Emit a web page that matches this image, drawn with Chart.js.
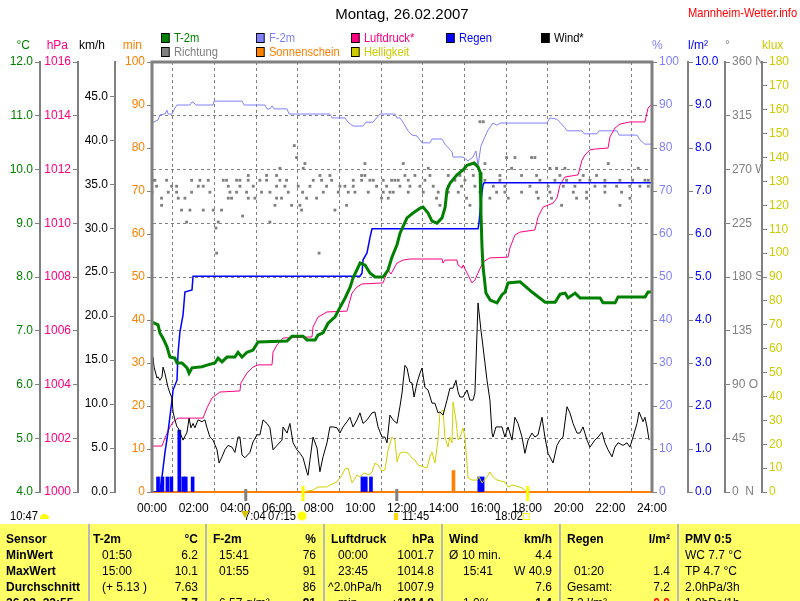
<!DOCTYPE html>
<html>
<head>
<meta charset="utf-8">
<title>Montag, 26.02.2007 - Mannheim-Wetter.info</title>
<script src="https://cdn.jsdelivr.net/npm/chart.js"></script>
<style>
  body { margin: 0; width: 800px; height: 601px; overflow: hidden; background: #fff;
         font-family: "Liberation Sans", Arial, sans-serif; position: relative; }
  .abs { position: absolute; white-space: nowrap; }
  /* the original lettering is narrow; squeeze the html labels a little */
  .sq { transform: scaleX(0.86); transform-origin: 0 50%; }
  #chart { position: absolute; left: 0; top: 0; }
  #title { left: 0; top: 5px; width: 804px; text-align: center; font-size: 15px; }
  #site { left: 688px; top: 5px; font-size: 13px; color: #f00; }
  .leg { position: absolute; font-size: 13px; line-height: 14px; white-space: nowrap; }
  .leg i { display: inline-block; width: 8px; height: 8px; border: 1px solid #000; margin-right: 5px; vertical-align: -1px; }
  .sun { font-size: 13px; top: 509px; line-height: 14px; }
  .ico { position: absolute; }
  #tbl { position: absolute; left: 0; top: 524px; width: 800px; height: 77px; background: #ffff66; font-size: 12px; overflow: hidden; }
  .c { position: absolute; top: 0; height: 77px; padding-top: 7px; box-sizing: border-box; }
  .c + .c { border-left: 2px solid #b8b8b8; }
  .r { height: 16px; line-height: 16px; display: flex; justify-content: space-between; padding: 0 7px 0 6px; white-space: nowrap; }
  .b { font-weight: bold; }
</style>
</head>
<body>
<canvas id="chart" width="800" height="523"></canvas>
<div id="title" class="abs">Montag, 26.02.2007</div>
<div id="site" class="abs sq">Mannheim-Wetter.info</div>
<div id="legend"></div>

<!-- day length / sun times under the time axis -->
<div class="abs sun sq" style="left:10px">10:47</div>
<span class="ico" style="left:40px;top:514px;width:9px;height:5px;background:#ffff00;border-radius:5px 5px 0 0"></span>
<div class="abs sun sq" style="left:244px">7:04</div>
<span class="ico" style="left:241px;top:511px;width:0;height:0;border-left:4px solid transparent;border-right:4px solid transparent;border-top:7px solid #d8c000"></span>
<div class="abs sun sq" style="left:268px">07:15</div>
<span class="ico" style="left:298px;top:512px;width:8px;height:8px;background:#ffff00;border-radius:50%;box-shadow:0 0 2px 1px #ffff80"></span>
<span class="ico" style="left:394px;top:513px;width:4px;height:7px;background:#ffd800"></span>
<div class="abs sun sq" style="left:402px">11:45</div>
<div class="abs sun sq" style="left:495px">18:02</div>
<span class="ico" style="left:523px;top:513px;width:5px;height:5px;border:1px solid #ffff00"></span>

<div id="tbl">
  <div class="c b" style="left:0;width:88px">
    <div class="r">Sensor</div><div class="r">MinWert</div><div class="r">MaxWert</div>
    <div class="r">Durchschnitt</div><div class="r">26.02. 22:55</div>
  </div>
  <div class="c" style="left:88px;width:117px">
    <div class="r b" style="padding-left:3px"><span>T-2m</span><span>°C</span></div>
    <div class="r"><span style="padding-left:6px">01:50</span><span>6.2</span></div>
    <div class="r"><span style="padding-left:6px">15:00</span><span>10.1</span></div>
    <div class="r"><span style="padding-left:6px">(+ 5.13 )</span><span>7.63</span></div>
    <div class="r"><span></span><span class="b">7.7</span></div>
  </div>
  <div class="c" style="left:205px;width:118px">
    <div class="r b"><span>F-2m</span><span>%</span></div>
    <div class="r"><span style="padding-left:6px">15:41</span><span>76</span></div>
    <div class="r"><span style="padding-left:6px">01:55</span><span>91</span></div>
    <div class="r"><span></span><span>86</span></div>
    <div class="r"><span style="padding-left:6px">6.57 g/m³</span><span class="b">91</span></div>
  </div>
  <div class="c" style="left:323px;width:118px">
    <div class="r b"><span>Luftdruck</span><span>hPa</span></div>
    <div class="r"><span style="padding-left:7px">00:00</span><span>1001.7</span></div>
    <div class="r"><span style="padding-left:7px">23:45</span><span>1014.8</span></div>
    <div class="r" style="padding-left:3px"><span>^2.0hPa/h</span><span>1007.9</span></div>
    <div class="r"><span style="padding-left:7px">min.</span><span class="b">&#9830;1014.8</span></div>
  </div>
  <div class="c" style="left:441px;width:118px">
    <div class="r b"><span>Wind</span><span>km/h</span></div>
    <div class="r"><span>Ø 10 min.</span><span>4.4</span></div>
    <div class="r"><span style="padding-left:14px">15:41</span><span>W 40.9</span></div>
    <div class="r"><span></span><span>7.6</span></div>
    <div class="r"><span style="padding-left:14px">1.0%</span><span class="b">1.4</span></div>
  </div>
  <div class="c" style="left:559px;width:118px">
    <div class="r b"><span>Regen</span><span>l/m²</span></div>
    <div class="r"><span></span><span></span></div>
    <div class="r"><span style="padding-left:7px">01:20</span><span>1.4</span></div>
    <div class="r"><span>Gesamt:</span><span>7.2</span></div>
    <div class="r"><span>7.2 l/m²</span><span class="b" style="color:#f00">0.0</span></div>
  </div>
  <div class="c" style="left:677px;width:123px">
    <div class="r b">PMV 0:5</div>
    <div class="r">WC 7.7 °C</div>
    <div class="r">TP 4.7 °C</div>
    <div class="r">2.0hPa/3h</div>
    <div class="r">1.0hPa/1h</div>
  </div>
</div>

<script>
// ---- values: [hour of day, value] ----
const tempPoints = [[0,7.16],[0.29,7.11],[0.38,6.96],[0.53,6.86],[0.72,6.70],[0.86,6.51],[1.10,6.49],[1.20,6.40],[1.44,6.40],[1.68,6.31],[1.78,6.21],[1.92,6.31],[2.40,6.33],[2.64,6.36],[3.02,6.40],[3.17,6.49],[3.36,6.42],[3.60,6.51],[3.98,6.51],[4.13,6.60],[4.32,6.51],[4.56,6.60],[4.85,6.64],[5.09,6.79],[6.48,6.81],[6.72,6.90],[7.25,6.90],[7.44,6.83],[7.83,6.83],[7.97,6.92],[8.21,6.96],[8.45,7.14],[8.79,7.26],[9.03,7.44],[9.27,7.61],[9.51,7.81],[9.65,7.98],[9.99,8.26],[10.23,8.22],[10.47,8.07],[10.71,8.00],[11.09,8.00],[11.33,8.13],[11.52,8.37],[11.76,8.60],[11.91,8.82],[12.24,9.10],[12.53,9.19],[12.87,9.28],[13.01,9.30],[13.25,9.19],[13.44,9.04],[13.68,9.00],[13.92,9.10],[14.07,9.30],[14.16,9.62],[14.31,9.75],[14.64,9.90],[14.93,9.99],[15.12,10.08],[15.46,10.12],[15.65,10.05],[15.75,9.95],[15.79,9.19],[15.84,8.56],[15.89,8.19],[16.03,7.70],[16.23,7.57],[16.56,7.52],[16.80,7.67],[16.95,7.72],[17.09,7.89],[17.67,7.91],[18.24,7.72],[18.87,7.53],[19.35,7.53],[19.59,7.68],[19.83,7.70],[19.97,7.61],[20.31,7.70],[20.55,7.61],[21.51,7.61],[21.65,7.52],[22.23,7.52],[22.37,7.63],[23.67,7.63],[23.81,7.72],[24,7.72]];

const humPoints = [[0,85.3],[0.05,86.0],[0.29,86.5],[0.38,87.7],[0.62,87.9],[0.72,88.8],[0.77,87.9],[0.96,87.9],[1.10,89.3],[1.20,90.0],[1.82,90.0],[1.92,90.7],[1.97,90.7],[2.11,90.0],[2.93,90.0],[2.98,90.9],[4.32,90.9],[4.42,90.0],[5.42,90.0],[5.52,89.1],[5.66,89.1],[5.76,89.8],[5.86,89.1],[6.48,89.1],[6.58,87.9],[8.54,87.9],[8.64,87.0],[9.26,87.0],[9.41,86.0],[9.65,85.1],[10.13,85.1],[10.27,86.0],[10.61,86.0],[10.94,87.9],[11.66,87.9],[11.76,87.0],[11.90,87.0],[12.05,86.0],[12.29,84.0],[12.48,83.0],[12.72,82.8],[12.96,81.2],[13.34,81.2],[13.44,82.1],[13.92,82.1],[14.06,80.9],[14.40,79.1],[14.45,77.9],[14.93,77.9],[15.17,77.0],[15.41,77.9],[15.55,79.3],[15.65,76.0],[15.79,80.5],[15.98,82.6],[16.13,84.2],[16.37,85.8],[16.56,85.3],[16.70,85.8],[18.96,85.8],[19.10,87.0],[19.44,86.7],[19.82,84.7],[19.92,84.0],[20.64,84.0],[20.74,83.3],[21.36,83.3],[21.46,84.0],[22.32,84.0],[22.42,83.0],[23.28,83.0],[23.42,81.9],[23.66,80.9],[24,80.9]];

const pressPoints = [[0,1001.71],[0.48,1001.71],[0.62,1002.01],[0.86,1002.42],[1.01,1002.60],[1.25,1002.75],[2.45,1002.75],[2.64,1003.13],[2.88,1003.50],[3.26,1003.72],[4.22,1003.76],[4.27,1004.06],[4.56,1004.43],[4.85,1004.65],[5.09,1004.73],[5.76,1004.73],[5.81,1005.21],[6.00,1005.47],[6.29,1005.73],[7.68,1005.77],[7.73,1006.14],[7.97,1006.51],[8.40,1006.70],[9.36,1006.73],[9.60,1007.40],[9.84,1007.63],[10.08,1007.74],[11.09,1007.78],[11.18,1007.96],[11.33,1008.26],[11.47,1008.11],[11.76,1008.52],[12.05,1008.63],[12.38,1008.67],[13.92,1008.67],[13.97,1008.52],[14.06,1008.63],[14.64,1008.63],[14.69,1008.45],[14.88,1008.33],[14.93,1008.45],[15.12,1008.15],[15.36,1007.78],[15.50,1007.89],[15.65,1008.15],[15.89,1008.56],[16.22,1008.71],[17.09,1008.74],[17.18,1009.08],[17.42,1009.56],[17.66,1009.67],[18.38,1009.75],[18.53,1010.23],[18.77,1010.60],[19.25,1010.75],[19.44,1010.94],[19.58,1011.42],[19.82,1011.72],[20.45,1011.80],[20.64,1012.35],[20.78,1012.54],[21.02,1012.73],[21.26,1012.76],[21.89,1012.80],[21.98,1013.21],[22.22,1013.54],[22.46,1013.69],[22.94,1013.77],[23.66,1013.77],[23.81,1014.29],[24,1014.44]];

const rainSumPoints = [[0,0],[0.38,0],[0.48,0.35],[0.62,0.91],[0.77,1.40],[0.96,2.14],[1.01,2.37],[1.20,2.60],[1.25,3.23],[1.34,3.72],[1.49,4.12],[1.58,4.65],[1.92,4.70],[1.97,5.02],[9.98,5.02],[10.08,5.09],[10.13,5.40],[10.32,5.56],[10.46,5.91],[10.56,6.12],[15.65,6.12],[15.70,6.28],[15.79,6.79],[15.89,7.14],[15.94,7.19],[24,7.19]];

const rainBars = [[0.29,0.35],[0.50,0.35],[0.74,0.35],[0.93,0.35],[1.31,1.44],[1.50,0.35],[1.62,0.35],[1.95,0.35],[10.10,0.35],[10.26,0.35],[10.51,0.35],[15.71,0.35],[15.87,0.35]];

const sunBars = [[14.47,5]];

const lightPoints = [[7.20,0],[7.73,0.8],[7.97,2.1],[8.40,2.1],[8.54,2.9],[8.88,4.2],[9.12,7.1],[9.26,9.6],[9.41,10.0],[9.60,3.8],[9.84,7.1],[9.98,6.3],[10.18,8.0],[10.42,7.1],[10.56,8.4],[10.70,12.1],[10.85,11.3],[11.04,8.8],[11.18,9.2],[11.33,17.6],[11.52,23.0],[11.66,21.8],[11.76,12.6],[11.90,16.3],[12.05,16.7],[12.29,16.3],[12.48,14.2],[12.62,13.4],[12.77,11.3],[13.20,10.0],[13.34,14.7],[13.44,16.7],[13.58,12.1],[13.73,21.8],[13.82,33.1],[13.97,34.3],[14.06,23.0],[14.21,18.8],[14.30,23.0],[14.40,20.5],[14.45,37.7],[14.59,30.1],[14.69,21.8],[14.78,23.0],[14.93,26.8],[15.02,23.0],[15.17,5.9],[15.36,5.0],[15.60,5.0],[15.70,6.3],[15.84,3.8],[16.08,6.3],[16.22,8.4],[16.37,6.3],[16.56,5.0],[16.94,4.2],[17.09,2.1],[17.33,2.9],[17.76,1.7],[18.00,0]];

const windPoints = [[0,14.2],[0.05,15.3],[0.10,14.2],[0.24,12.95],[0.29,13.1],[0.38,12.7],[0.48,13.1],[0.53,14.2],[0.62,13.5],[0.72,12.4],[0.77,11.9],[0.86,11.25],[0.96,10.7],[1.01,9.1],[1.10,8.2],[1.20,7.4],[1.25,7.3],[1.34,6.8],[1.49,5.9],[1.68,6.8],[1.78,8.4],[1.87,7.3],[1.97,7.8],[2.06,7.3],[2.21,8.2],[2.40,8.0],[2.54,8.2],[2.64,7.3],[2.78,6.25],[2.93,5.9],[3.12,4.8],[3.22,3.3],[3.36,4.0],[3.50,4.8],[3.65,5.3],[3.84,5.1],[3.98,4.5],[4.13,6.25],[4.22,6.25],[4.32,4.2],[4.46,3.9],[4.70,4.5],[4.85,5.7],[5.04,6.5],[5.18,6.5],[5.33,8.2],[5.52,7.8],[5.66,7.3],[5.81,4.8],[6.00,5.3],[6.24,5.9],[6.29,7.4],[6.48,6.7],[6.62,7.8],[6.77,5.6],[6.96,4.8],[7.10,4.4],[7.25,3.9],[7.44,2.2],[7.49,1.9],[7.58,3.6],[7.73,6.25],[7.92,5.0],[8.06,2.3],[8.21,4.0],[8.40,5.6],[8.54,7.4],[8.69,7.4],[8.88,7.3],[9.02,6.7],[9.17,7.4],[9.36,8.0],[9.50,8.5],[9.65,7.4],[9.84,8.2],[9.98,9.0],[10.13,7.8],[10.32,8.2],[10.56,9.0],[10.70,9.1],[10.85,7.4],[11.04,6.25],[11.18,6.25],[11.28,5.6],[11.42,8.75],[11.57,8.2],[11.76,7.8],[11.90,9.7],[12.00,11.25],[12.14,14.4],[12.24,14.1],[12.38,12.5],[12.48,12.4],[12.58,10.8],[12.72,12.4],[12.86,13.5],[12.96,14.1],[13.10,11.9],[13.25,11.6],[13.44,10.1],[13.58,10.1],[13.73,9.0],[13.82,9.1],[13.97,8.75],[14.16,10.45],[14.30,11.8],[14.45,11.8],[14.59,12.7],[14.69,11.4],[14.78,10.8],[14.93,10.8],[15.12,11.6],[15.26,10.45],[15.41,10.45],[15.50,11.25],[15.65,21.5],[15.79,18.4],[15.89,16.5],[16.08,12.7],[16.22,10.45],[16.32,6.7],[16.37,6.25],[16.51,7.4],[16.61,7.4],[16.80,7.4],[16.94,6.25],[17.09,7.4],[17.28,5.9],[17.42,8.5],[17.57,7.8],[17.76,6.25],[17.90,4.4],[18.05,5.9],[18.24,6.7],[18.38,6.25],[18.53,6.5],[18.72,8.5],[18.86,6.25],[19.01,4.4],[19.25,3.3],[19.44,5.3],[19.58,5.9],[19.73,6.25],[19.92,9.7],[20.06,9.0],[20.21,7.8],[20.40,6.7],[20.54,6.7],[20.69,7.4],[20.88,5.9],[21.02,5.1],[21.26,5.9],[21.41,6.25],[21.60,6.8],[21.74,5.6],[21.89,4.8],[22.08,4.0],[22.22,5.1],[22.37,5.6],[22.61,5.3],[22.80,5.6],[22.94,5.1],[23.09,6.25],[23.28,7.8],[23.38,9.1],[23.57,8.0],[23.66,8.5],[23.76,7.4],[23.86,5.9]];

// wind direction samples: [degrees, [hours at which that direction was logged]]
const dirRows = [
  [310, [15.74, 15.90]],
  [290, [6.83]],
  [280, [6.94, 17.02, 17.42, 18.22, 18.38]],
  [275, [7.34, 10.22, 12.06, 15.98, 21.90]],
  [271, [6.14, 7.26, 13.26, 17.26, 19.10, 19.42, 19.82, 23.34]],
  [265, [4.62, 5.50, 5.98, 8.06, 8.54, 10.06, 10.22, 12.14, 12.62, 13.34, 14.22, 14.78, 15.42, 16.70, 17.74, 18.46, 19.58, 20.70, 21.34]],
  [261, [0.06, 0.14, 0.70, 1.90, 2.30, 2.70, 3.42, 3.58, 4.06, 4.22, 4.62, 5.18, 5.50, 6.14, 6.46, 7.74, 8.14, 8.62, 9.66, 10.06, 10.46, 10.62, 11.10, 11.50, 11.66, 11.82, 12.30, 13.10, 14.54, 15.02, 15.98, 16.70, 18.62, 19.34, 19.90, 20.54, 21.02, 21.74, 22.46, 23.07, 23.66, 23.82]],
  [256, [0.22, 0.94, 1.18, 2.22, 2.46, 3.66, 4.22, 4.86, 5.98, 6.38, 7.02, 7.58, 8.38, 9.02, 9.26, 9.66, 10.78, 11.26, 11.90, 12.38, 12.86, 13.50, 14.22, 14.86, 15.50, 16.38, 16.94, 18.14, 19.02, 19.74, 20.30, 21.26, 21.74, 22.30, 22.94, 23.42, 23.82]],
  [251, [0.00, 0.78, 1.18, 1.90, 2.78, 3.74, 4.06, 4.54, 5.26, 5.66, 6.54, 7.23, 8.22, 8.94, 9.42, 9.74, 10.38, 11.10, 11.42, 11.58, 12.30, 13.02, 13.74, 14.22, 14.70, 15.74, 16.54, 16.94, 17.74, 18.46, 19.10, 20.22, 20.86, 21.74, 22.54]],
  [246, [0.46, 1.26, 1.58, 3.66, 3.82, 4.62, 4.94, 5.98, 6.22, 7.42, 7.90, 11.02, 11.34, 13.66, 15.10, 16.22, 17.10, 18.54, 19.18, 20.38, 20.86, 22.94]],
  [240, [0.46, 5.90, 6.70, 7.10, 9.34, 13.82, 15.26, 19.66, 22.46]],
  [236, [1.42, 1.82, 2.46, 2.94, 3.34, 7.18, 8.78]],
  [231, [4.35]],
  [226, [1.66, 3.18, 5.66]],
  [221, [3.07]],
  [200, [3.10, 8.02]]
];

// marks on the time axis (hours): moon/sun events
const greyMarks = [4.5, 11.75];
const sunMarks = [7.25, 18.03];

const degTicks = [0, 90, 180, 270, 360];
const degTickNames = ['0  N', '90 O', '180 S', '270 W', '360 N'];

const col = {
  T: '#008000', F: '#8080ff', P: '#ff0080', R: '#0000ff', W: '#000000',
  D: '#808080', S: '#ff8000', L: '#cccc00'
};

const legendRows = [
  [['T-2m', col.T], ['F-2m', col.F], ['Luftdruck*', col.P], ['Regen', col.R], ['Wind*', col.W]],
  [['Richtung', col.D], ['Sonnenschein', col.S], ['Helligkeit', col.L]]
];

const units = [
  ['yT', '°C'], ['yP', 'hPa'], ['yW', 'km/h'], ['yM', 'min'],
  ['yF', '%'], ['yR', 'l/m²'], ['yD', '°'], ['yL', 'klux']
];

// ---- legend (html) ----
const legendEl = document.getElementById('legend');
legendRows.forEach((row, r) => row.forEach(([label, c], i) => {
  const d = document.createElement('div');
  d.className = 'leg sq';
  d.style.left = (161 + i * 95) + 'px';
  d.style.top = (31 + r * 14) + 'px';
  d.style.color = c;
  d.innerHTML = '<i style="background:' + c + '"></i>' + label;
  legendEl.appendChild(d);
}));

// ---- chart ----
Chart.defaults.font.family = '"Liberation Sans", Arial, sans-serif';
Chart.defaults.font.size = 12;

const pts = arr => arr.map(([x, y]) => ({x, y}));
const dirPts = dirRows.flatMap(([deg, hrs]) => hrs.map(h => ({x: h, y: deg})));
const fixed = v => v.toFixed(1);

function sideAxis(position, weight, width, color, min, max, step, fmt, extra) {
  return Object.assign({
    type: 'linear', position, weight, min, max,
    afterFit: s => { s.width = width; },
    border: { display: true, color: '#808080', width: 2 },
    grid: { drawOnChartArea: false, color: '#808080', tickLength: 5 },
    ticks: { stepSize: step, color, padding: 2, autoSkip: false, includeBounds: false, callback: fmt }
  }, extra || {});
}

const lineSet = (label, data, axis, color, width) => ({
  type: 'line', label, data: pts(data), yAxisID: axis, borderColor: color,
  borderWidth: width, pointRadius: 0, tension: 0, fill: false
});

const framePlugin = {
  id: 'frame',
  afterDraw(chart) {
    const {ctx, chartArea: a, scales} = chart;
    ctx.save();
    ctx.strokeStyle = '#808080';
    ctx.lineWidth = 3;
    ctx.beginPath();
    ctx.moveTo(a.left - 1.5, a.top); ctx.lineTo(a.right + 1.5, a.top);
    ctx.moveTo(a.left, a.top); ctx.lineTo(a.left, a.bottom);
    ctx.moveTo(a.right, a.top); ctx.lineTo(a.right, a.bottom);
    ctx.stroke();

    // event marks across the time axis
    const x = scales.x;
    greyMarks.forEach(h => {
      ctx.fillStyle = '#808080';
      ctx.fillRect(x.getPixelForValue(h) - 1.5, a.bottom - 3, 3, 12);
    });
    sunMarks.forEach(h => {
      ctx.fillStyle = '#ffff00';
      ctx.fillRect(x.getPixelForValue(h) - 1.5, a.bottom - 6, 3, 15);
    });

    // unit captions above every value axis
    ctx.font = '12px "Liberation Sans", Arial, sans-serif';
    ctx.textBaseline = 'middle';
    units.forEach(([id, text]) => {
      const s = scales[id];
      ctx.fillStyle = s.options.ticks.color;
      if (s.position === 'left') {
        ctx.textAlign = 'right';
        ctx.fillText(text, s.right - 10, 46);
      } else {
        ctx.textAlign = 'left';
        ctx.fillText(text, s.left, 46);
      }
    });
    ctx.restore();
  }
};

new Chart(document.getElementById('chart'), {
  type: 'line',
  data: {
    datasets: [
      lineSet('T-2m', tempPoints, 'yT', col.T, 3),
      lineSet('Wind*', windPoints, 'yW', col.W, 1),
      lineSet('Helligkeit', lightPoints, 'yL', '#d0d000', 1),
      { type: 'bar', label: 'Sonnenschein', data: pts(sunBars), yAxisID: 'yM',
        backgroundColor: col.S, barThickness: 3, grouped: false },
      { type: 'bar', label: 'Regen', data: pts(rainBars), yAxisID: 'yR',
        backgroundColor: col.R, barThickness: 3, grouped: false },
      lineSet('Regen Summe', rainSumPoints, 'yR', col.R, 1.5),
      lineSet('Luftdruck*', pressPoints, 'yP', col.P, 1),
      lineSet('F-2m', humPoints, 'yF', col.F, 1),
      { type: 'line', label: 'Richtung', data: dirPts, yAxisID: 'yD', showLine: false,
        pointStyle: 'rect', pointRadius: 2, pointBorderWidth: 0,
        pointBackgroundColor: col.D, borderColor: col.D }
    ]
  },
  options: {
    responsive: false,
    animation: false,
    layout: { padding: { top: 62, left: 0, right: 0, bottom: 0 } },
    plugins: { legend: { display: false }, title: { display: false }, tooltip: { enabled: false } },
    scales: {
      x: {
        type: 'linear', min: 0, max: 24, offset: false,
        afterFit: s => { s.height = 31; },
        border: { display: true, color: col.S, width: 2, dash: [3, 3] },
        grid: { color: '#808080', drawTicks: false },
        ticks: { stepSize: 2, color: '#000', padding: 9, autoSkip: false, maxRotation: 0,
                 callback: v => String(v).padStart(2, '0') + ':00' }
      },
      // left side, inner to outer
      yM: sideAxis('left', 0, 37, col.S, 0, 100, 10),
      yW: sideAxis('left', 1, 37, '#000', 0, 48.9, 5, fixed),
      yP: sideAxis('left', 2, 38, col.P, 1000, 1016, 2),
      yT: sideAxis('left', 3, 40, col.T, 4, 12, 1, fixed, {
        border: { display: true, color: '#808080', width: 2, dash: [3, 3] },
        grid: { drawOnChartArea: true, color: '#808080', tickLength: 5 }
      }),
      // right side, inner to outer
      yF: sideAxis('right', 0, 36, col.F, 0, 100, 10),
      yR: sideAxis('right', 1, 37, col.R, 0, 10, 1, fixed),
      yD: sideAxis('right', 2, 37, '#808080', 0, 360, 45, v => {
        const i = degTicks.indexOf(v);
        return i >= 0 ? degTickNames[i] : String(v);
      }),
      yL: sideAxis('right', 3, 38, col.L, 0, 180, 10)
    }
  },
  plugins: [framePlugin]
});
</script>
</body>
</html>
